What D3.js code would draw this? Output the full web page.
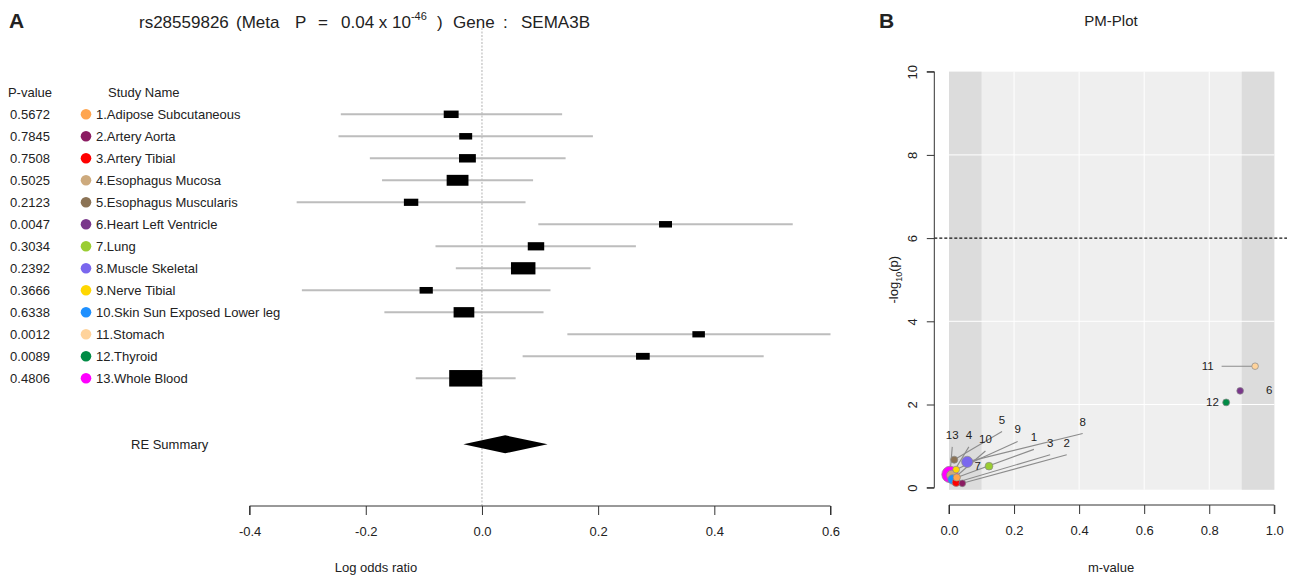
<!DOCTYPE html>
<html>
<head>
<meta charset="utf-8">
<script src="https://cdn.jsdelivr.net/npm/d3@7"></script>
<style>
  body { margin: 0; background: #fff; }
  svg { font-family: "Liberation Sans", Arial, Helvetica, sans-serif; display: block; }
  text { fill: #222; }
</style>
</head>
<body>
<div id="chart"></div>
<script>
// data
var studyNames = ["1.Adipose Subcutaneous", "2.Artery Aorta", "3.Artery Tibial", "4.Esophagus Mucosa",
  "5.Esophagus Muscularis", "6.Heart Left Ventricle", "7.Lung", "8.Muscle Skeletal", "9.Nerve Tibial",
  "10.Skin Sun Exposed Lower leg", "11.Stomach", "12.Thyroid", "13.Whole Blood"];
var pValues = [0.5672, 0.7845, 0.7508, 0.5025, 0.2123, 0.0047, 0.3034, 0.2392, 0.3666, 0.6338, 0.0012, 0.0089, 0.4806];
var pLabels = ["0.5672", "0.7845", "0.7508", "0.5025", "0.2123", "0.0047", "0.3034", "0.2392", "0.3666", "0.6338", "0.0012", "0.0089", "0.4806"];
var logOddsRatio = [-0.053, -0.028, -0.025, -0.042, -0.122, 0.316, 0.093, 0.071, -0.096, -0.031, 0.373, 0.277, -0.028];
var ciLower = [-0.243, -0.247, -0.193, -0.172, -0.319, 0.097, -0.080, -0.045, -0.310, -0.168, 0.147, 0.070, -0.114];
var ciUpper = [0.138, 0.191, 0.144, 0.088, 0.075, 0.535, 0.265, 0.187, 0.118, 0.106, 0.600, 0.485, 0.058];
var mValues = [0.024, 0.041, 0.022, 0.008, 0.016, 0.895, 0.123, 0.056, 0.022, 0.011, 0.941, 0.852, 0.003];
var studyColors = ["#FFA54F", "#8B1C62", "#FF0000", "#CDAA7D", "#8B7355", "#7A378B", "#9ACD32",
  "#7A67EE", "#FFD700", "#1E90FF", "#FFD39B", "#008B45", "#FF00FF"];
var reSummary = [-0.032, 0.040, 0.113];   // lower, estimate, upper
var forestTicks = [-0.4, -0.2, 0.0, 0.2, 0.4, 0.6];
var mTicks = [0.0, 0.2, 0.4, 0.6, 0.8, 1.0];
var logpTicks = [0, 2, 4, 6, 8, 10];

// where the PM-plot number labels sit (in m-value / -log10 p units)
var pmLabelSpots = [
  {id: 1, m: 0.261, lp: 1.21, lead: "down"}, {id: 2, m: 0.362, lp: 1.08, lead: "down"},
  {id: 3, m: 0.311, lp: 1.08, lead: "down"}, {id: 4, m: 0.061, lp: 1.27, lead: "down"},
  {id: 5, m: 0.163, lp: 1.64, lead: "down"}, {id: 6, m: 0.984, lp: 2.34, lead: "none"},
  {id: 7, m: 0.088, lp: 0.53, lead: "none"}, {id: 8, m: 0.411, lp: 1.59, lead: "down"},
  {id: 9, m: 0.211, lp: 1.40, lead: "down"}, {id: 10, m: 0.112, lp: 1.17, lead: "down"},
  {id: 11, m: 0.795, lp: 2.92, lead: "right"}, {id: 12, m: 0.810, lp: 2.05, lead: "none"},
  {id: 13, m: 0.010, lp: 1.27, lead: "down"}
];

var svgWidth = 1293;
var svgHeight = 577;

var svg = d3.select("#chart").append("svg")
  .attr("width", svgWidth)
  .attr("height", svgHeight);

var studies = studyNames.map(function(name, i) {
  var se = (ciUpper[i] - ciLower[i]) / (2 * 1.96);
  return {
    id: i + 1, name: name, p: pValues[i], pLabel: pLabels[i], est: logOddsRatio[i],
    lo: ciLower[i], hi: ciUpper[i], m: mValues[i], color: studyColors[i],
    weight: 1 / (se * se), logp: -Math.log10(pValues[i])
  };
});
var maxWeight = d3.max(studies, d => d.weight);
var minWeight = d3.min(studies, d => d.weight);

// ---------------- Panel A : forest plot ----------------
var xForest = d3.scaleLinear().domain([-0.4, 0.6]).range([249.6, 830.5]);
var rowY = d3.scaleLinear().domain([0, 15]).range([114.3, 444.3]);
var boxScale = d3.scaleSqrt().domain([0, maxWeight]).range([0, 33]);
var axisY = 506;

svg.append("text").attr("x", 9).attr("y", 28)
  .attr("font-size", 21).attr("font-weight", "bold").attr("fill", "#111").text("A");

// title pieces spaced like the original plotmath title
var title = svg.append("text").attr("y", 28).attr("font-size", 17);
title.append("tspan").attr("x", 139).text("rs28559826");
title.append("tspan").attr("x", 236).text("(Meta");
title.append("tspan").attr("x", 295).text("P");
title.append("tspan").attr("x", 318).text("=");
title.append("tspan").attr("x", 341).text("0.04 x 10");
title.append("tspan").attr("dy", -8).attr("font-size", 11).text("-46");
title.append("tspan").attr("dy", 8).attr("x", 437).text(")");
title.append("tspan").attr("x", 453).text("Gene");
title.append("tspan").attr("x", 503).text(":");
title.append("tspan").attr("x", 521).text("SEMA3B");

// zero line
svg.append("line")
  .attr("x1", xForest(0)).attr("x2", xForest(0))
  .attr("y1", 28).attr("y2", axisY)
  .attr("stroke", "#c4c4c4").attr("stroke-width", 1.3).attr("stroke-dasharray", "2,1.5");

// headers
svg.append("text").attr("x", 30).attr("y", rowY(-1)).attr("dy", "0.35em")
  .attr("text-anchor", "middle").attr("font-size", 13).text("P-value");
svg.append("text").attr("x", 108).attr("y", rowY(-1)).attr("dy", "0.35em")
  .attr("font-size", 13).text("Study Name");

var rows = svg.selectAll("g.row").data(studies).enter().append("g").attr("class", "row");

rows.append("text")
  .attr("x", 30).attr("y", (d, i) => rowY(i)).attr("dy", "0.35em")
  .attr("text-anchor", "middle").attr("font-size", 13)
  .text(d => d.pLabel);

rows.append("circle")
  .attr("cx", 86).attr("cy", (d, i) => rowY(i)).attr("r", 5.3)
  .attr("fill", d => d.color);

rows.append("text")
  .attr("x", 96).attr("y", (d, i) => rowY(i)).attr("dy", "0.35em")
  .attr("font-size", 13)
  .text(d => d.name);

rows.append("line")
  .attr("x1", d => xForest(d.lo)).attr("x2", d => xForest(d.hi))
  .attr("y1", (d, i) => rowY(i)).attr("y2", (d, i) => rowY(i))
  .attr("stroke", "#bdbdbd").attr("stroke-width", 2);

rows.append("rect")
  .attr("x", d => xForest(d.est) - boxScale(d.weight) / 2)
  .attr("y", (d, i) => rowY(i) - boxScale(d.weight) / 4)
  .attr("width", d => boxScale(d.weight))
  .attr("height", d => boxScale(d.weight) / 2)
  .attr("fill", "#000");

// RE summary diamond
var sy = rowY(15);
svg.append("text").attr("x", 131).attr("y", sy).attr("dy", "0.35em")
  .attr("font-size", 13).text("RE Summary");
svg.append("polygon")
  .attr("points", [
    [xForest(reSummary[0]), sy], [xForest(reSummary[1]), sy - 9],
    [xForest(reSummary[2]), sy], [xForest(reSummary[1]), sy + 9]
  ].map(p => p.join(",")).join(" "))
  .attr("fill", "#000");

var forestAxis = svg.append("g")
  .attr("transform", `translate(0, ${axisY})`)
  .call(d3.axisBottom(xForest).tickValues(forestTicks).tickSize(9).tickPadding(12)
    .tickFormat(d => d.toFixed(1)));
forestAxis.select(".domain").attr("stroke", "#333").attr("d", `M${xForest(-0.4)},9V0H${xForest(0.6)}V9`);
forestAxis.selectAll(".tick line").attr("stroke", "#333");
forestAxis.selectAll("text").attr("font-size", 13).attr("fill", "#222");

svg.append("text").attr("x", 376).attr("y", 567).attr("dy", "0.35em")
  .attr("text-anchor", "middle").attr("font-size", 13).text("Log odds ratio");

// ---------------- Panel B : PM-plot ----------------
var xPM = d3.scaleLinear().domain([0, 1]).range([949, 1274.3]);
var yPM = d3.scaleLinear().domain([0, 10]).range([487.7, 71.7]);
var rScale = d3.scaleLinear().domain([minWeight, maxWeight]).range([3.3, 8.2]);

svg.append("text").attr("x", 879).attr("y", 28)
  .attr("font-size", 21).attr("font-weight", "bold").attr("fill", "#111").text("B");
svg.append("text").attr("x", 1111).attr("y", 21).attr("dy", "0.35em")
  .attr("text-anchor", "middle").attr("font-size", 15).text("PM-Plot");

var pm = svg.append("g");
pm.append("rect")
  .attr("x", xPM(0)).attr("y", yPM(10))
  .attr("width", xPM(1) - xPM(0)).attr("height", yPM(0) - yPM(10) + 2)
  .attr("fill", "#efefef");
[[0, 0.1], [0.9, 1]].forEach(function(band) {
  pm.append("rect")
    .attr("x", xPM(band[0])).attr("y", yPM(10))
    .attr("width", xPM(band[1]) - xPM(band[0])).attr("height", yPM(0) - yPM(10) + 2)
    .attr("fill", "#dcdcdc");
});
pm.selectAll("line.vgrid").data([0.2, 0.4, 0.6, 0.8]).enter().append("line")
  .attr("x1", d => xPM(d)).attr("x2", d => xPM(d))
  .attr("y1", yPM(10)).attr("y2", yPM(0) + 2)
  .attr("stroke", "#fff").attr("stroke-width", 1);
pm.selectAll("line.hgrid").data([2, 4, 8]).enter().append("line")
  .attr("x1", xPM(0)).attr("x2", xPM(1))
  .attr("y1", d => yPM(d)).attr("y2", d => yPM(d))
  .attr("stroke", "#fff").attr("stroke-width", 1);

// significance threshold at -log10(p) = 6
pm.append("line")
  .attr("x1", 934.3).attr("x2", 1287)
  .attr("y1", yPM(6)).attr("y2", yPM(6))
  .attr("stroke", "#111").attr("stroke-width", 1.2).attr("stroke-dasharray", "3,2");

// leader lines
var byId = {};
studies.forEach(d => { byId[d.id] = d; });
pmLabelSpots.forEach(function(s) {
  var d = byId[s.id];
  if (s.lead === "down") {
    pm.append("line")
      .attr("x1", xPM(s.m)).attr("y1", yPM(s.lp) + 12)
      .attr("x2", xPM(d.m)).attr("y2", yPM(d.logp))
      .attr("stroke", "#8c8c8c").attr("stroke-width", 1.1);
  } else if (s.lead === "right") {
    pm.append("line")
      .attr("x1", xPM(s.m) + 14).attr("y1", yPM(s.lp))
      .attr("x2", xPM(d.m)).attr("y2", yPM(d.logp))
      .attr("stroke", "#8c8c8c").attr("stroke-width", 1.1);
  }
});

// points, biggest first
pm.selectAll("circle.pt")
  .data(studies.slice().sort((a, b) => b.weight - a.weight))
  .enter().append("circle")
  .attr("cx", d => xPM(d.m)).attr("cy", d => yPM(d.logp))
  .attr("r", d => rScale(d.weight))
  .attr("fill", d => d.color)
  .attr("stroke", "#8a8a8a").attr("stroke-width", 0.7);

pm.selectAll("text.lab").data(pmLabelSpots).enter().append("text")
  .attr("x", d => xPM(d.m)).attr("y", d => yPM(d.lp)).attr("dy", "0.35em")
  .attr("text-anchor", "middle").attr("font-size", 11.5)
  .text(d => d.id);

// axes
var pmX = svg.append("g")
  .attr("transform", `translate(0, ${axisY - 1})`)
  .call(d3.axisBottom(xPM).tickValues(mTicks).tickSize(9).tickPadding(12)
    .tickFormat(d => d.toFixed(1)));
pmX.select(".domain").attr("stroke", "#333").attr("d", `M${xPM(0)},9V0H${xPM(1)}V9`);
pmX.selectAll(".tick line").attr("stroke", "#333");
pmX.selectAll("text").attr("font-size", 13).attr("fill", "#222");

var pmY = svg.append("g")
  .attr("transform", "translate(934.3, 0)")
  .call(d3.axisLeft(yPM).tickValues(logpTicks).tickSize(7.5));
pmY.select(".domain").attr("stroke", "#333").attr("d", `M-7.5,${yPM(10)}H0V${yPM(0)}H-7.5`);
pmY.selectAll(".tick line").attr("stroke", "#333");
pmY.selectAll("text")
  .attr("x", 0).attr("dy", 0)
  .attr("text-anchor", "middle")
  .attr("transform", "translate(-17.5, 0) rotate(-90)")
  .attr("font-size", 13).attr("fill", "#222");

svg.append("text").attr("x", 1111).attr("y", 567).attr("dy", "0.35em")
  .attr("text-anchor", "middle").attr("font-size", 13).text("m-value");

var ylab = svg.append("text")
  .attr("transform", `translate(898, ${(yPM(0) + yPM(10)) / 2}) rotate(-90)`)
  .attr("text-anchor", "middle").attr("font-size", 13);
ylab.append("tspan").text("-log");
ylab.append("tspan").attr("dy", 4).attr("font-size", 9).text("10");
ylab.append("tspan").attr("dy", -4).text("(p)");
</script>
</body>
</html>
